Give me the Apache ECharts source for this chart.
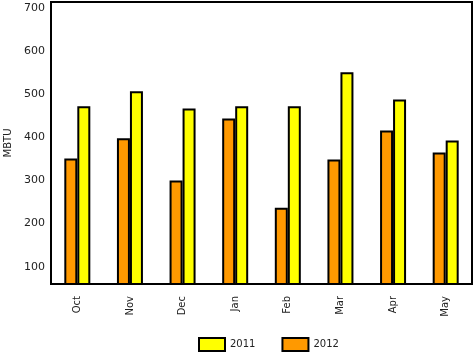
<!DOCTYPE html>
<html>
<head>
<meta charset="utf-8">
<script src="https://cdn.jsdelivr.net/npm/echarts@6/dist/echarts.min.js"></script>
<style>
  html, body { margin: 0; padding: 0; background: #fff; }
  #chart { width: 474px; height: 354px; }
</style>
</head>
<body>
<div id="chart"></div>
<script>
// months on the x axis
var months = ['Oct', 'Nov', 'Dec', 'Jan', 'Feb', 'Mar', 'Apr', 'May'];
// energy use, MBTU
var use2011 = [472, 507, 467, 472, 472, 551, 488, 393];
var use2012 = [351, 398, 300, 444, 237, 349, 416, 365];
// y tick labels
var yTicks = [100, 200, 300, 400, 500, 600, 700];

var font = 'DejaVu Sans';
var chart = echarts.init(document.getElementById('chart'));

// shared bar look
function barStyle(color) {
  return { color: color, borderColor: '#000', borderWidth: 2 };
}

chart.setOption({
  animation: false,
  grid: {
    left: 51, right: 2, top: 2, bottom: 70,
    show: true, borderColor: '#000', borderWidth: 2,
    containLabel: false, outerBoundsMode: 'none'
  },
  legend: {
    data: ['2011', '2012'],
    top: 337,
    left: 198,
    padding: 0,
    icon: 'rect',
    itemWidth: 26,
    itemHeight: 13,
    itemGap: 26,
    textStyle: { fontFamily: font, fontSize: 10, color: '#222' }
  },
  xAxis: {
    type: 'category',
    data: months,
    axisLine: { lineStyle: { color: '#000', width: 2 } },
    axisTick: { show: false },
    axisLabel: { rotate: 90, margin: 12, fontFamily: font, fontSize: 10, color: '#222' }
  },
  yAxis: {
    type: 'value',
    min: 60,
    max: 714,
    name: 'MBTU',
    nameLocation: 'middle',
    nameGap: 38,
    nameTextStyle: { fontFamily: font, fontSize: 10, color: '#222' },
    splitLine: { show: false },
    axisLine: { show: true, lineStyle: { color: '#000', width: 2 } },
    axisTick: { show: false },
    axisLabel: { customValues: yTicks, margin: 6, fontFamily: font, fontSize: 11, color: '#222' }
  },
  series: [
    { name: '2012', type: 'bar', data: use2012, barWidth: 13, barGap: '0%', itemStyle: barStyle('#ff9900') },
    { name: '2011', type: 'bar', data: use2011, barWidth: 13, barGap: '0%', itemStyle: barStyle('#ffff00') }
  ]
});
</script>
</body>
</html>
